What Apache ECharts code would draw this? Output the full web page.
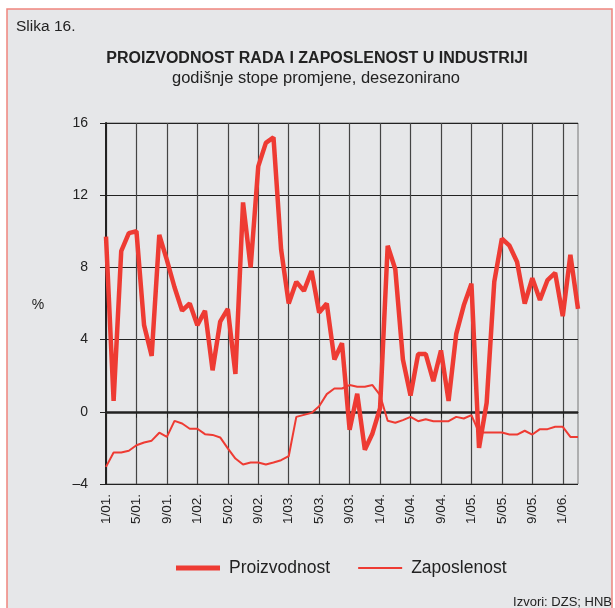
<!DOCTYPE html>
<html>
<head>
<meta charset="utf-8">
<script src="https://cdn.jsdelivr.net/npm/echarts@6/dist/echarts.min.js"></script>
<style>
  html, body { margin: 0; padding: 0; background: #fff; }
  #chart { width: 615px; height: 608px; }
</style>
</head>
<body>
<div id="chart"></div>
<script>
// mjesecne oznake (1/01. ... 3/06.)
var months = [
  '1/01.', '2/01.', '3/01.', '4/01.', '5/01.', '6/01.', '7/01.', '8/01.', '9/01.', '10/01.', '11/01.', '12/01.',
  '1/02.', '2/02.', '3/02.', '4/02.', '5/02.', '6/02.', '7/02.', '8/02.', '9/02.', '10/02.', '11/02.', '12/02.',
  '1/03.', '2/03.', '3/03.', '4/03.', '5/03.', '6/03.', '7/03.', '8/03.', '9/03.', '10/03.', '11/03.', '12/03.',
  '1/04.', '2/04.', '3/04.', '4/04.', '5/04.', '6/04.', '7/04.', '8/04.', '9/04.', '10/04.', '11/04.', '12/04.',
  '1/05.', '2/05.', '3/05.', '4/05.', '5/05.', '6/05.', '7/05.', '8/05.', '9/05.', '10/05.', '11/05.', '12/05.',
  '1/06.', '2/06.', '3/06.'
];

// proizvodnost rada, godisnja stopa promjene (%)
var proizvodnost = [
  9.7, 0.6, 8.9, 9.9, 10.0, 4.8, 3.1, 9.8, 8.4, 6.9, 5.6, 6.0,
  4.8, 5.6, 2.3, 5.0, 5.7, 2.1, 11.6, 8.0, 13.6, 14.9, 15.2, 9.0,
  6.0, 7.2, 6.7, 7.8, 5.5, 6.0, 2.9, 3.8, -1.0, 1.0, -2.1, -1.2,
  0.2, 9.2, 7.9, 2.9, 0.9, 3.2, 3.2, 1.7, 3.4, 0.6, 4.3, 5.9,
  7.1, -2.0, 0.5, 7.2, 9.6, 9.2, 8.3, 6.0, 7.4, 6.2, 7.3, 7.7,
  5.3, 8.7, 5.7
];

// zaposlenost, godisnja stopa promjene (%)
var zaposlenost = [
  -3.05, -2.25, -2.25, -2.16, -1.85, -1.7, -1.6, -1.16, -1.39, -0.5, -0.65, -0.94,
  -0.94, -1.24, -1.28, -1.42, -2.03, -2.59, -2.92, -2.81, -2.81, -2.92, -2.81, -2.68,
  -2.46, -0.28, -0.17, -0.06, 0.31, 0.98, 1.29, 1.29, 1.48, 1.39, 1.39, 1.48,
  0.92, -0.5, -0.61, -0.46, -0.28, -0.52, -0.41, -0.52, -0.52, -0.52, -0.28, -0.37,
  -0.18, -1.15, -1.15, -1.15, -1.15, -1.26, -1.26, -1.05, -1.26, -0.96, -0.96, -0.83,
  -0.83, -1.39, -1.39
];

var yTicks = { min: -4, max: 16, step: 4 };

var font = '"Liberation Sans", Arial, sans-serif';
var red = '#ee3b33';

var chart = echarts.init(document.getElementById('chart'));
chart.setOption({
  backgroundColor: '#fff',
  animation: false,
  textStyle: { fontFamily: font },
  graphic: [
    {
      type: 'rect', z: -10, silent: true,
      shape: { x: 7, y: 9, width: 605, height: 620 },
      style: { fill: '#e6e7e9', stroke: '#f0857e', lineWidth: 1.5 }
    },
    {
      type: 'text', x: 16, y: 27,
      style: { text: 'Slika 16.', fontSize: 15.5, fontFamily: font, fill: '#222', textVerticalAlign: 'middle' }
    },
    {
      type: 'text', x: 317, y: 59,
      style: { text: 'PROIZVODNOST RADA I ZAPOSLENOST U INDUSTRIJI', fontSize: 16, fontWeight: 'bold', fontFamily: font, fill: '#222', textAlign: 'center', textVerticalAlign: 'middle' }
    },
    {
      type: 'text', x: 316, y: 78,
      style: { text: 'godišnje stope promjene, desezonirano', fontSize: 16.5, fontFamily: font, fill: '#222', textAlign: 'center', textVerticalAlign: 'middle' }
    },
    {
      type: 'text', x: 38, y: 305,
      style: { text: '%', fontSize: 14, fontFamily: font, fill: '#222', textAlign: 'center', textVerticalAlign: 'middle' }
    },
    {
      type: 'text', x: 612, y: 602,
      style: { text: 'Izvori: DZS; HNB', fontSize: 13, fontFamily: font, fill: '#222', textAlign: 'right', textVerticalAlign: 'middle' }
    }
  ],
  legend: {
    left: 171, top: 554,
    itemWidth: 44, itemHeight: 16, itemGap: 28,
    data: [
      { name: 'Proizvodnost', icon: 'path://M0,0H44V5H0Z' },
      { name: 'Zaposlenost', icon: 'path://M0,0H44V2H0Z' }
    ],
    textStyle: { fontSize: 17.5, color: '#222', padding: [0, 0, 0, 4] }
  },
  grid: {
    left: 106, top: 123, width: 472, height: 361,
    show: true, borderColor: '#777', borderWidth: 1
  },
  xAxis: {
    type: 'category',
    data: months,
    boundaryGap: false,
    axisLine: { lineStyle: { color: '#222', width: 1 } },
    axisTick: { interval: 3, length: 6, lineStyle: { color: '#222' } },
    axisLabel: { interval: 3, rotate: 90, margin: 10, fontSize: 13.5, color: '#222' },
    splitLine: { show: true, interval: 3, lineStyle: { color: '#444', width: 1.2 } }
  },
  yAxis: {
    type: 'value',
    min: yTicks.min, max: yTicks.max, interval: yTicks.step,
    axisLine: { show: true, lineStyle: { color: '#222', width: 2 } },
    axisTick: { show: true, length: 6, lineStyle: { color: '#222' } },
    axisLabel: {
      fontSize: 14, color: '#222', margin: 18,
      formatter: function (v) { return String(v).replace('-', '\u2013'); }
    },
    splitLine: { show: true, lineStyle: { color: '#222', width: 1 } }
  },
  series: [
    {
      name: 'Proizvodnost',
      type: 'line',
      data: proizvodnost,
      symbol: 'none',
      z: 4,
      lineStyle: { color: red, width: 4.5 },
      itemStyle: { color: red }
    },
    {
      name: 'Zaposlenost',
      type: 'line',
      data: zaposlenost,
      symbol: 'none',
      z: 3,
      lineStyle: { color: red, width: 2 },
      itemStyle: { color: red },
      // nulta linija
      markLine: {
        z: 1,
        silent: true,
        symbol: 'none',
        label: { show: false },
        lineStyle: { color: '#222', width: 2.5, type: 'solid' },
        data: [{ yAxis: 0 }]
      }
    }
  ]
});
</script>
</body>
</html>
